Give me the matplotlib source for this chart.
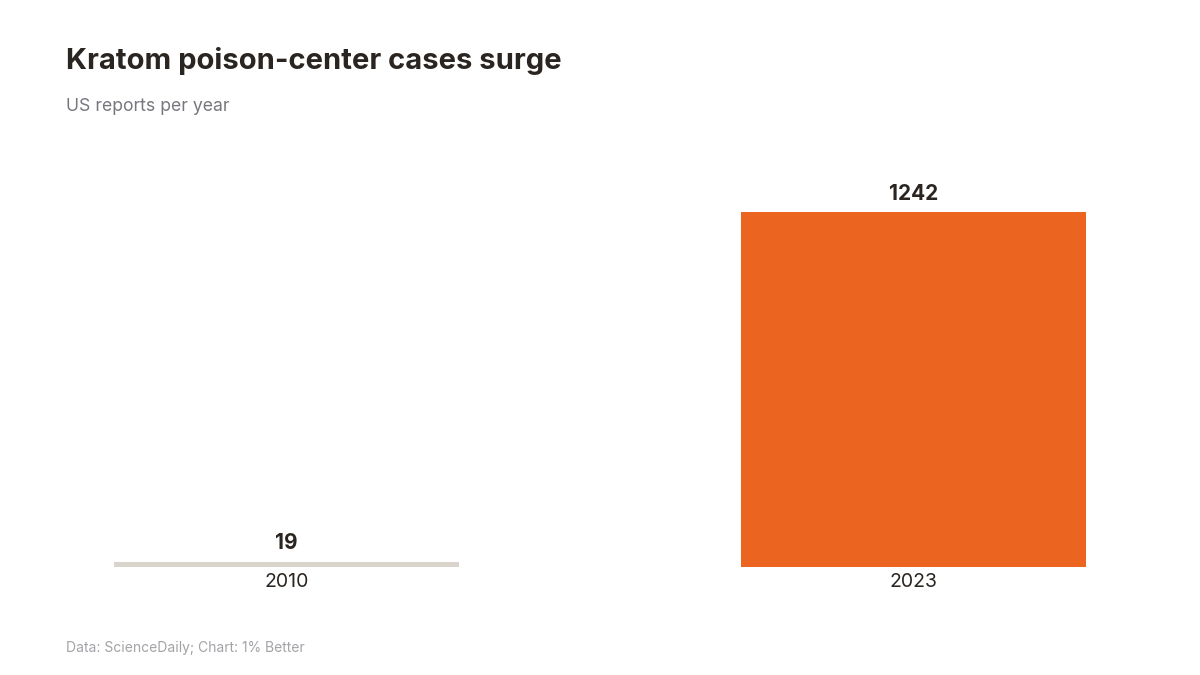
import matplotlib
matplotlib.use("Agg")
import matplotlib.pyplot as plt

years = ["2010", "2023"]
cases = [19, 1242]
bar_colors = ["#D9D5CC", "#EC6520"]

plt.rcParams["font.family"] = ["Inter", "DejaVu Sans"]

fig = plt.figure(figsize=(12, 6.75), dpi=100)
fig.patch.set_facecolor("white")

# axes placed so the baseline sits at y=567px and the tall bar top at 212px
top_pad = 1.15
ax = fig.add_axes([66 / 1200, 108 / 675, 1068 / 1200, 355 * top_pad / 675])
x = range(len(years))
ax.bar(x, cases, width=0.55, color=bar_colors)
ax.set_xlim(-0.352, 1.352)
ax.set_ylim(0, max(cases) * top_pad)

for xi, v in zip(x, cases):
    ax.annotate(str(v), (xi, v), xytext=(0, 6), textcoords="offset points",
                ha="center", va="bottom", fontsize=15, fontweight="bold",
                color="#2A2520")

ax.set_xticks(list(x))
ax.set_xticklabels(years, fontsize=14, color="#2A2520")
ax.tick_params(axis="x", length=0, pad=4)
ax.set_yticks([])
for s in ax.spines.values():
    s.set_visible(False)

fig.text(66 / 1200, 1 - 69 / 675, "Kratom poison-center cases surge",
         fontsize=21, fontweight="bold", color="#2A2520", va="baseline")
fig.text(66 / 1200, 1 - 111 / 675, "US reports per year",
         fontsize=12.7, color="#77777D", va="baseline")
fig.text(66 / 1200, 1 - 652 / 675, "Data: ScienceDaily; Chart: 1% Better",
         fontsize=10, color="#A3A3A8", va="baseline")

fig.savefig("out.png", dpi=100)
